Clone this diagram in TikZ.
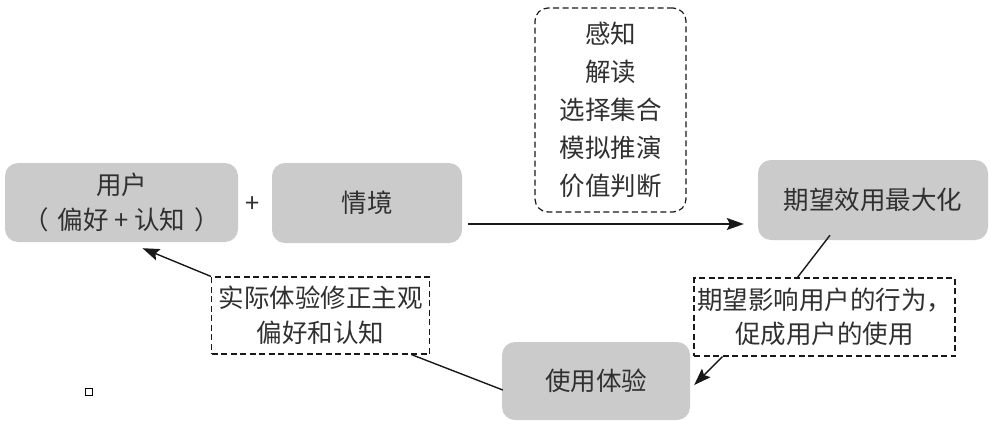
\documentclass[tikz,border=0pt]{standalone}
\usepackage{fontspec}
\setmainfont{Noto Sans CJK SC}
\usetikzlibrary{arrows.meta}
\definecolor{boxgray}{HTML}{CBCBCB}
\definecolor{txt}{HTML}{303030}
\begin{document}
\begin{tikzpicture}[x=1pt,y=-1pt,
  every node/.style={text=txt, align=center, font=\fontsize{25.5}{35}\selectfont, inner sep=0pt},
  graybox/.style={fill=boxgray, rounded corners=13pt},
  dashbox/.style={draw=black!90, dashed, dash pattern=on 6pt off 3.5pt, line width=1.2pt},
  conn/.style={line width=1.4pt, black!90},
  arr/.style={conn, -{Stealth[length=17pt,width=12pt,inset=3pt]}}]
\useasboundingbox (0,0) rectangle (992,426);
\node[graybox, minimum width=233pt, minimum height=79pt] (u) at (121.5,202.5) {用户\\（\hspace{9pt}偏好 + 认知\hspace{9pt}）};
\node (plus) at (253,205) {+};
\node[graybox, minimum width=190pt, minimum height=80pt] (s) at (367,203) {情境};
\node[dashbox, rounded corners=13pt, minimum width=151pt, minimum height=204pt, font=\fontsize{25.5}{38}\selectfont] (d1) at (610.5,110) {感知\\解读\\选择集合\\模拟推演\\价值判断};
\node[graybox, minimum width=230pt, minimum height=80pt] (e) at (873,200) {期望效用最大化};
\node[dashbox, minimum width=261pt, minimum height=78pt, font=\fontsize{25.5}{34}\selectfont] (d2) at (824.5,317) {期望影响用户的行为，\\促成用户的使用};
\node[graybox, minimum width=188pt, minimum height=78pt] (x) at (596,381) {使用体验};
\node[dashbox, minimum width=218pt, minimum height=77pt] (d3) at (320.5,315.5) {实际体验修正主观\\偏好和认知};
\node[draw=black, line width=1pt, minimum size=7pt] (sq) at (89,392) {};
\draw[arr] ([xshift=6pt,yshift=-21pt]s.east) -- ([xshift=-14pt,yshift=-24pt]e.west);
\draw[conn] ([xshift=-43pt,yshift=5pt]e.south) -- ([xshift=-27pt]d2.north);
\draw[arr] ([xshift=-102pt]d2.south) -- ([xshift=4pt,yshift=-4pt]x.east);
\draw[conn] ([xshift=1pt,yshift=-9pt]x.west) -- ([xshift=91pt]d3.south);
\draw[arr] (d3.north west) -- ([xshift=21pt,yshift=-6pt]u.south);
\end{tikzpicture}
\end{document}
